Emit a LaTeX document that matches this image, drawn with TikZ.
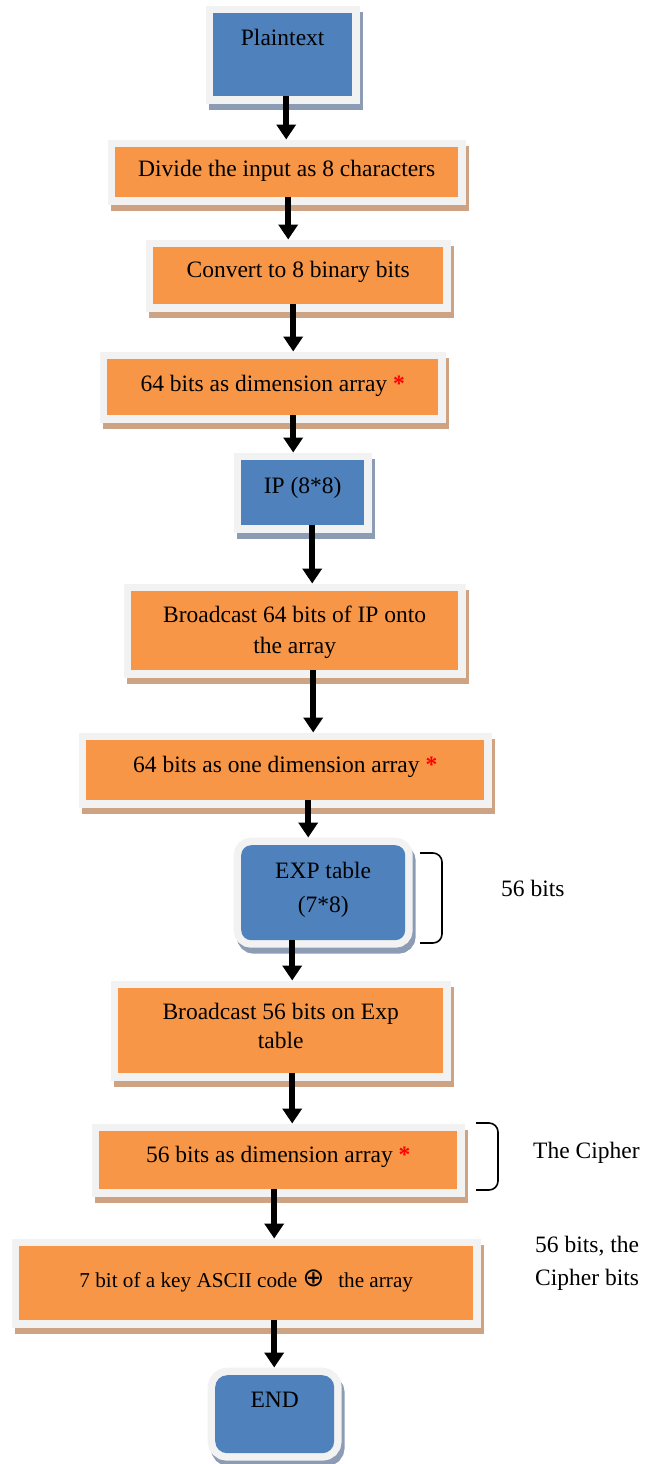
\documentclass[tikz,border=0pt]{standalone}
\usepackage{fontspec}
\setmainfont{Liberation Serif}
\newfontfamily\symfont{DejaVu Sans}
\usetikzlibrary{arrows.meta}
\definecolor{ofill}{HTML}{F79646}
\definecolor{bfill}{HTML}{4F81BD}
\definecolor{framec}{HTML}{F2F2F2}
\definecolor{oshadow}{HTML}{CDA384}
\definecolor{bshadow}{HTML}{8C9CB4}
\begin{document}
\begin{tikzpicture}[x=1pt,y=-1pt,
  boxbase/.style={inner sep=0pt, align=flush center, anchor=north west, font=\fontsize{23.5}{31}\selectfont},
  obox/.style={boxbase, fill=ofill,
    preaction={draw=oshadow, fill=oshadow, line width=15pt, transform canvas={shift={(3pt,-6pt)}}},
    preaction={draw=framec, line width=15pt}},
  bbox/.style={boxbase, fill=bfill,
    preaction={draw=bshadow, fill=bshadow, line width=15pt, transform canvas={shift={(3pt,-6pt)}}},
    preaction={draw=framec, line width=15pt}},
  arr/.style={line width=6pt, -{Triangle[width=19pt,length=15pt]}, shorten >=7.5pt},
  bracket/.style={line width=1.6pt, rounded corners=9pt},
  lab/.style={inner sep=0pt, font=\fontsize{23.5}{33}\selectfont}
]
\useasboundingbox (0,0) rectangle (657,1464);
\fill[white] (0,0) rectangle (657,1464);

\node[bbox, text width=139pt, text height=32pt, text depth=51pt] (n1) at (213,13) {Plaintext};
\node[obox, text width=343pt, text height=29pt, text depth=21pt] (n2) at (115,147) {Divide the input as 8 characters};
\node[obox, text width=290pt, text height=30pt, text depth=27pt] (n3) at (153,247) {Convert to 8 binary bits};
\node[obox, text width=331pt, text height=32pt, text depth=24pt] (n4) at (107,359) {64 bits as dimension array \textcolor{red}{\textbf{*}}};
\node[bbox, text width=123pt, text height=33pt, text depth=32pt] (n5) at (241,460) {IP (8*8)};
\node[obox, text width=327pt, text height=31pt, text depth=48pt] (n6) at (131,591) {Broadcast 64 bits of IP onto\\the array};
\node[obox, text width=398pt, text height=32pt, text depth=28pt] (n7) at (86,740) {64 bits as one dimension array \textcolor{red}{\textbf{*}}};
\node[bbox, rounded corners=10pt, text width=164pt, text height=33pt, text depth=62pt, font=\fontsize{23.5}{34}\selectfont] (n8) at (241,845) {EXP table\\(7*8)};
\node[obox, text width=325pt, text height=31pt, text depth=54pt, font=\fontsize{23.5}{29}\selectfont] (n9) at (118,988) {Broadcast 56 bits on Exp\\table};
\node[obox, text width=358pt, text height=31pt, text depth=27pt] (n10) at (99,1131) {56 bits as dimension array \textcolor{red}{\textbf{*}}};
\node[obox, text width=454pt, text height=41pt, text depth=33pt, font=\fontsize{21.2}{25}\selectfont] (n11) at (19,1246) {7 bit of a key ASCII code \raisebox{1pt}{\fontsize{26}{26}\symfont ⊕}\hspace{14pt}the array};
\node[bbox, rounded corners=12pt, text width=119pt, text height=32pt, text depth=46pt] (n12) at (215,1375) {END};

\draw[arr] ([xshift=3.5pt]n1.south) -- ([xshift=-0.5pt]n2.north);
\draw[arr] ([xshift=1.5pt]n2.south) -- ([xshift=-10pt]n3.north);
\draw[arr] ([xshift=-5pt]n3.south) -- ([xshift=20.5pt]n4.north);
\draw[arr] ([xshift=20.5pt]n4.south) -- ([xshift=-9.5pt]n5.north);
\draw[arr] ([xshift=9.5pt]n5.south) -- ([xshift=17.5pt]n6.north);
\draw[arr] ([xshift=18.5pt]n6.south) -- ([xshift=28pt]n7.north);
\draw[arr] ([xshift=23pt]n7.south) -- ([xshift=-15pt]n8.north);
\draw[arr] ([xshift=-31pt]n8.south) -- ([xshift=11.5pt]n9.north);
\draw[arr] ([xshift=11.5pt]n9.south) -- ([xshift=14pt]n10.north);
\draw[arr] ([xshift=-4pt]n10.south) -- ([xshift=28pt]n11.north);
\draw[arr] ([xshift=28pt]n11.south) -- ([xshift=-0.5pt]n12.north);

\draw[bracket] (420,853) -- (442,853) -- (442,943) -- (420,943);
\draw[bracket] (476,1123) -- (498,1123) -- (498,1190) -- (476,1190);

\node[lab, anchor=base west] (t1) at (501,896) {56 bits};
\node[lab, anchor=base west] (t2) at (533,1158) {The Cipher};
\node[lab, anchor=base west, align=left] (t3) at (535,1285) {56 bits, the\\Cipher bits};
\end{tikzpicture}
\end{document}
